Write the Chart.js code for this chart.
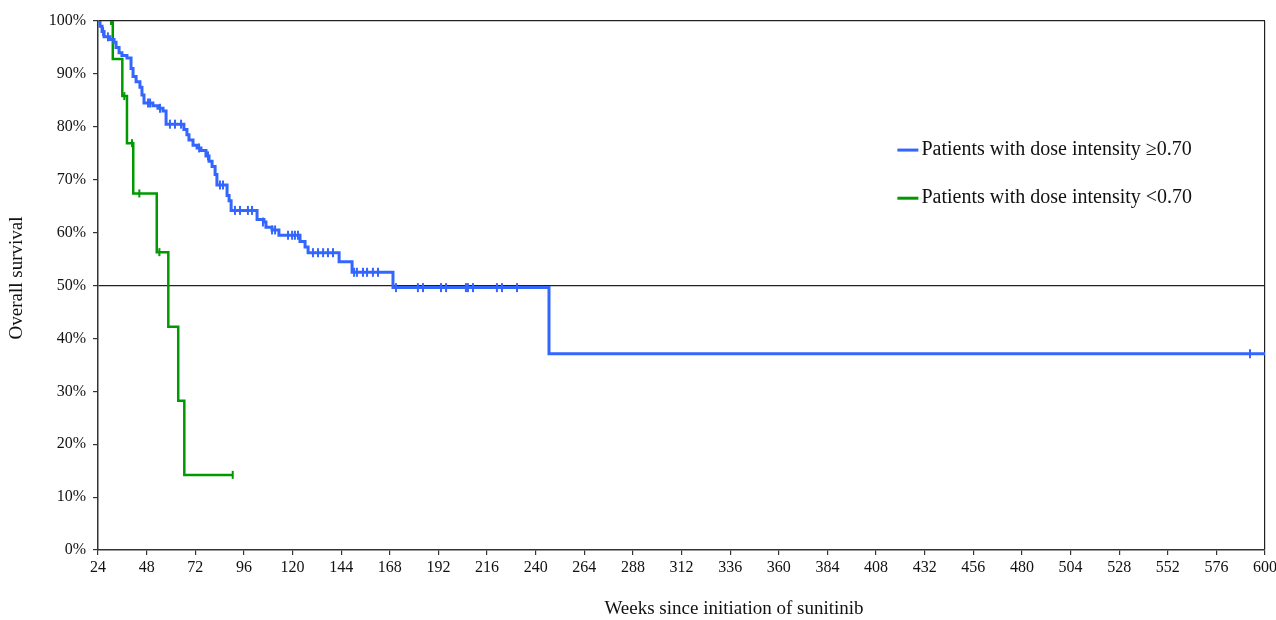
<!DOCTYPE html>
<html>
<head>
<meta charset="utf-8">
<script src="https://cdn.jsdelivr.net/npm/chart.js@4"></script>
<style>
  html, body { margin: 0; padding: 0; background: #fff; }
  #wrap { width: 1276px; height: 620px; position: relative; }
</style>
</head>
<body>
<div id="wrap"><canvas id="km"></canvas></div>
<script>
// Kaplan-Meier curves, values (weeks, % surviving after each step)
const blueWeeks = [24, 25.0, 26.0, 27.0, 29.9, 31.9, 32.9, 34.4, 35.8, 38.3, 40.3, 41.3, 42.8, 44.7, 45.7, 46.7,
  51.1, 53.6, 56.1, 57.6, 66.4, 67.9, 68.9, 70.9, 72.9, 74.8, 77.3, 78.8, 80.3, 81.8, 82.7, 87.7, 88.7, 89.7,
  102.5, 105.9, 106.9, 109.9, 113.3, 123.7, 126.2, 127.7, 143.0, 149.4, 169.6, 246.6, 600];
const blueSurv = [100, 99, 98, 97, 96.5, 96, 95, 94, 93.5, 93, 91, 89.5, 88.5, 87.5, 86, 84.5,
  84, 83.5, 83, 80.5, 79.5, 78.5, 77.5, 76.5, 76, 75.5, 74.5, 73.5, 72.5, 71, 69, 67, 66, 64.2,
  62.5, 62, 61, 60.5, 59.5, 58.3, 57.3, 56.2, 54.5, 52.5, 49.6, 37.1, 37.1];

const blueCensWeeks = [26.5, 28.9, 48.7, 49.7, 54.6, 59.5, 62.0, 65.0, 73.9, 78.3, 84.2, 85.7, 91.6, 94.1, 98.0, 100.0,
  105.4, 109.9, 111.4, 117.8, 119.8, 121.2, 122.7, 130.1, 132.6, 135.1, 137.5, 140.0, 150.4, 151.8, 154.8, 156.8,
  159.7, 162.2, 171.1, 181.9, 184.4, 193.3, 195.8, 205.6, 206.6, 209.1, 220.9, 223.4, 230.8, 592.6];
const blueCensSurv = [98, 97, 84.5, 84.5, 83.5, 80.5, 80.5, 80.5, 76, 74.5, 69, 69, 64.2, 64.2, 64.2, 64.2,
  62, 60.5, 60.5, 59.5, 59.5, 59.5, 59.5, 56.2, 56.2, 56.2, 56.2, 56.2, 52.5, 52.5, 52.5, 52.5,
  52.5, 52.5, 49.6, 49.6, 49.6, 49.6, 49.6, 49.6, 49.6, 49.6, 49.6, 49.6, 49.6, 37.1];

const greenWeeks = [29.9, 31.3, 36.0, 38.3, 41.4, 53.0, 58.7, 63.6, 66.6, 90.5];
const greenSurv = [100, 92.8, 85.8, 76.9, 67.4, 56.3, 42.2, 28.2, 14.2, 14.2];
const greenCensWeeks = [30.4, 37.0, 40.8, 44.4, 54.3, 90.5];
const greenCensSurv = [100, 85.8, 76.9, 67.4, 56.3, 14.2];

const seriesNames = ['Patients with dose intensity \u22650.70', 'Patients with dose intensity <0.70'];
const xTicks = { min: 24, max: 600, step: 24 };
const yTicks = { min: 0, max: 100, step: 10 };

const BLUE = '#3366ff';
const GREEN = '#009a00';
const SERIF = '"Liberation Serif", "Times New Roman", serif';

const pts = (xs, ys) => xs.map((x, i) => ({ x: x, y: ys[i] }));

// legend + axis titles drawn by hand (they sit where Chart.js' built-ins can't go)
const annotate = {
  id: 'annotate',
  afterDraw(chart) {
    const ctx = chart.ctx;
    const a = chart.chartArea;
    ctx.save();
    ctx.font = '20px ' + SERIF;
    ctx.fillStyle = '#111';
    ctx.textBaseline = 'middle';
    ctx.textAlign = 'left';
    const lx = a.left + 0.685 * (a.right - a.left);
    const rows = [a.top + 0.244 * (a.bottom - a.top), a.top + 0.335 * (a.bottom - a.top)];
    [BLUE, GREEN].forEach((c, i) => {
      ctx.strokeStyle = c;
      ctx.lineWidth = 3;
      ctx.beginPath();
      ctx.moveTo(lx, rows[i]);
      ctx.lineTo(lx + 21, rows[i]);
      ctx.stroke();
      ctx.fillText(seriesNames[i], lx + 24, rows[i]);
    });
    ctx.font = '19px ' + SERIF;
    ctx.textAlign = 'center';
    ctx.fillText('Weeks since initiation of sunitinib', 734, 609);
    ctx.translate(17, 278);
    ctx.rotate(-Math.PI / 2);
    ctx.fillText('Overall survival', 0, 0);
    ctx.restore();
  }
};

new Chart(document.getElementById('km'), {
  type: 'line',
  data: {
    datasets: [
      {
        label: seriesNames[0],
        data: pts(blueWeeks, blueSurv),
        borderColor: BLUE,
        borderWidth: 3,
        stepped: 'before',
        pointRadius: 0,
        fill: false
      },
      {
        label: seriesNames[1],
        data: pts(greenWeeks, greenSurv),
        borderColor: GREEN,
        borderWidth: 2.5,
        stepped: 'before',
        pointRadius: 0,
        fill: false
      },
      {
        label: 'censored a',
        data: pts(blueCensWeeks, blueCensSurv),
        showLine: false,
        pointStyle: 'line',
        rotation: 90,
        pointRadius: 4.5,
        borderColor: BLUE,
        pointBorderWidth: 2
      },
      {
        label: 'censored b',
        data: pts(greenCensWeeks, greenCensSurv),
        showLine: false,
        pointStyle: 'line',
        rotation: 90,
        pointRadius: 4,
        borderColor: GREEN,
        pointBorderWidth: 2
      }
    ]
  },
  options: {
    responsive: true,
    maintainAspectRatio: false,
    animation: false,
    layout: { padding: { top: 21, right: 11, left: 0, bottom: 0 } },
    plugins: {
      legend: { display: false },
      tooltip: { enabled: false }
    },
    scales: {
      x: {
        type: 'linear',
        min: xTicks.min,
        max: xTicks.max,
        afterFit: s => { s.height = 70; s.paddingLeft = 0; s.paddingRight = 0; },
        ticks: {
          stepSize: xTicks.step,
          color: '#111',
          padding: 3,
          maxRotation: 0,
          autoSkip: false,
          font: { family: SERIF, size: 16 }
        },
        grid: {
          color: c => (c.tick && c.tick.value === xTicks.max) ? '#222' : 'rgba(0,0,0,0)',
          lineWidth: 1.2,
          tickColor: '#333',
          tickLength: 5
        },
        border: { display: true, color: '#333', width: 1.5 }
      },
      y: {
        min: yTicks.min,
        max: yTicks.max,
        afterFit: s => { s.width = 98; s.paddingTop = 0; s.paddingBottom = 0; },
        ticks: {
          stepSize: yTicks.step,
          color: '#111',
          padding: 7,
          font: { family: SERIF, size: 16 },
          callback: v => v + '%'
        },
        grid: {
          color: c => (c.tick && (c.tick.value === 50 || c.tick.value === 100)) ? '#222' : 'rgba(0,0,0,0)',
          lineWidth: 1.2,
          tickColor: '#333',
          tickLength: 5
        },
        border: { display: true, color: '#333', width: 1.5 }
      }
    }
  },
  plugins: [annotate]
});
</script>
</body>
</html>
